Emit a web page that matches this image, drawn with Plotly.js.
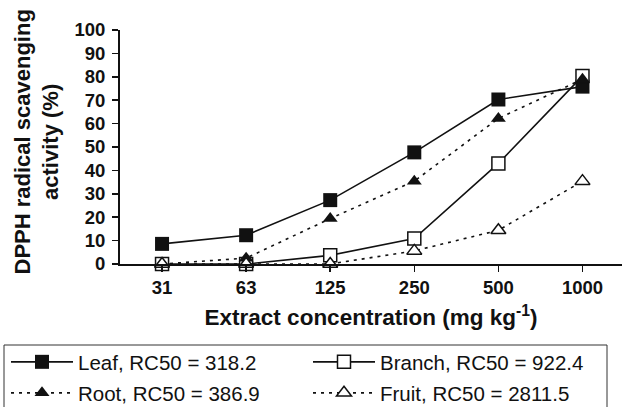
<!DOCTYPE html>
<html>
<head>
<meta charset="utf-8">
<script src="https://cdn.plot.ly/plotly-3.0.1.min.js"></script>
<style>html,body{margin:0;padding:0;background:#fff;}#chart{width:622px;height:407px;}</style>
</head>
<body>
<div id="chart"></div>
<script>
// Data
const concentrations = ['31', '63', '125', '250', '500', '1000'];
const leafValues   = [8.6, 12.3, 27.3, 47.7, 70.3, 75.8];
const branchValues = [0, 0, 3.7, 10.9, 43.0, 80.3];
const rootValues   = [0, 2.5, 19.4, 35.4, 62.2, 79.0];
const fruitValues  = [0, 0, 0, 5.6, 14.4, 35.4];
const seriesNames  = ['Leaf, RC50 = 318.2', 'Branch, RC50 = 922.4', 'Root, RC50 = 386.9', 'Fruit, RC50 = 2811.5'];

const FONT = 'Liberation Sans, Arial, Helvetica, sans-serif';
const INK = '#111111';

const traces = [
  {x: concentrations, y: leafValues, name: seriesNames[0], mode: 'lines+markers', cliponaxis: false,
   line: {color: INK, width: 1.6}, marker: {symbol: 'square', size: 14, color: INK},
   legend: 'legend'},
  {x: concentrations, y: branchValues, name: seriesNames[1], mode: 'lines+markers', cliponaxis: false,
   line: {color: INK, width: 1.6}, marker: {symbol: 'square', size: 13, color: '#ffffff', line: {color: INK, width: 1.5}},
   legend: 'legend2'},
  {x: concentrations, y: rootValues, name: seriesNames[2], mode: 'lines+markers', cliponaxis: false,
   line: {color: INK, width: 1.6, dash: '3px,5px'}, marker: {symbol: 'triangle-up', size: 13, color: INK},
   legend: 'legend3'},
  {x: concentrations, y: fruitValues, name: seriesNames[3], mode: 'lines+markers', cliponaxis: false,
   line: {color: INK, width: 1.6, dash: '3px,5px'}, marker: {symbol: 'triangle-up', size: 13, color: '#ffffff', line: {color: INK, width: 1.5}},
   legend: 'legend4'}
];

const legendCommon = {
  orientation: 'v', xref: 'container', yref: 'container', xanchor: 'left', yanchor: 'middle',
  borderwidth: 0, bgcolor: 'rgba(0,0,0,0)', itemwidth: 62,
  font: {family: FONT, size: 20.5, color: INK}, itemclick: false, itemdoubleclick: false
};
const col1 = 6 / 622, col2 = 308 / 622;
const row1 = 1 - 362 / 407, row2 = 1 - 393 / 407;

const layout = {
  width: 622, height: 407,
  margin: {l: 120, r: 0, t: 30, b: 143, autoexpand: false},
  paper_bgcolor: '#ffffff', plot_bgcolor: '#ffffff',
  font: {family: FONT, color: INK},
  showlegend: true,
  legend:  Object.assign({}, legendCommon, {x: col1, y: row1}),
  legend2: Object.assign({}, legendCommon, {x: col2, y: row1}),
  legend3: Object.assign({}, legendCommon, {x: col1, y: row2}),
  legend4: Object.assign({}, legendCommon, {x: col2, y: row2}),
  xaxis: {
    type: 'category', categoryorder: 'array', categoryarray: concentrations,
    range: [-0.5, 5.47], showgrid: false, zeroline: false, automargin: false,
    showline: true, linecolor: INK, linewidth: 2, tickangle: 0,
    ticks: 'outside', ticklen: 6, tickwidth: 1.5, tickcolor: INK,
    tickfont: {family: FONT, size: 18.5, color: INK, weight: 'bold'},
    title: {text: 'Extract concentration (mg kg<sup>-1</sup>)', font: {family: FONT, size: 22.5, color: INK, weight: 'bold'}, standoff: 12}
  },
  xaxis2: {
    overlaying: 'x', anchor: 'y', side: 'bottom', type: 'linear', automargin: false,
    range: [-0.5, 5.47], tick0: -0.5, dtick: 1,
    showgrid: false, zeroline: false, showline: false, showticklabels: false,
    ticks: 'inside', ticklen: 7, tickwidth: 1.5, tickcolor: INK
  },
  yaxis: {
    range: [0, 100], dtick: 10, showgrid: false, zeroline: false, automargin: false,
    showline: true, linecolor: INK, linewidth: 2,
    ticks: 'outside', ticklen: 6, tickwidth: 1.5, tickcolor: INK, ticklabelstandoff: 3,
    tickfont: {family: FONT, size: 18.5, color: INK, weight: 'bold'}
  },
  annotations: [{
    xref: 'paper', yref: 'paper', x: (36.5 - 120) / 502, y: (264 - 142) / 234,
    xanchor: 'center', yanchor: 'middle', textangle: -90, showarrow: false,
    text: 'DPPH radical scavenging<br>activity (%)',
    font: {family: FONT, size: 22, color: INK, weight: 'bold'}
  }],
  shapes: [{
    type: 'rect', xref: 'paper', yref: 'paper',
    x0: (4 - 120) / 502, x1: (607 - 120) / 502,
    y0: (264 - 345) / 234, y1: (264 - 409) / 234,
    line: {color: '#333333', width: 1}, fillcolor: 'rgba(0,0,0,0)', layer: 'above'
  }]
};

Plotly.newPlot('chart', traces, layout, {staticPlot: true, displayModeBar: false});
</script>
</body>
</html>
